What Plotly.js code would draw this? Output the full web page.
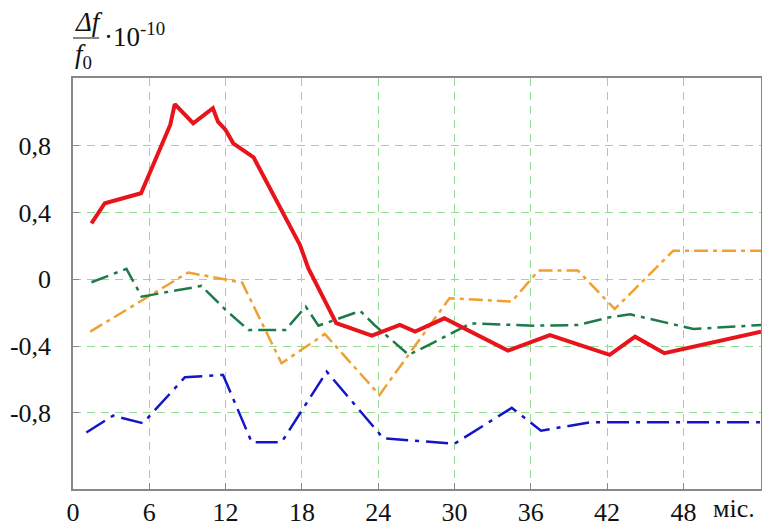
<!DOCTYPE html>
<html><head><meta charset="utf-8">
<script src="https://cdn.plot.ly/plotly-3.0.1.min.js"></script>
</head><body style="margin:0;background:#fff"><div id="c" style="width:762px;height:523px"></div>
<script>
// months
const redX = [1.45, 2.5, 5.35, 7.5, 7.65, 8.0, 9.45, 11.0, 11.4, 12.0, 12.6, 14.2, 17.05, 17.85, 18.5, 20.7, 23.5, 25.7, 26.9, 29.2, 34.2, 37.5, 42.2, 44.2, 46.5, 54.1];
const redY = [0.335, 0.455, 0.515, 0.905, 0.925, 1.048, 0.934, 1.024, 0.944, 0.894, 0.814, 0.73, 0.315, 0.205, 0.066, -0.263, -0.337, -0.274, -0.314, -0.234, -0.427, -0.334, -0.453, -0.344, -0.443, -0.314];

const greenX = [1.45, 4.2, 5.4, 10.1, 11.95, 13.8, 16.7, 18.3, 19.3, 22.6, 23.7, 26.4, 28.5, 31.3, 36.2, 39.7, 42.2, 43.8, 48.8, 54.1];
const greenY = [-0.018, 0.062, -0.104, -0.04, -0.18, -0.304, -0.304, -0.164, -0.278, -0.19, -0.274, -0.453, -0.373, -0.264, -0.278, -0.274, -0.228, -0.21, -0.298, -0.274];

const orangeX = [1.35, 9.05, 13.3, 16.4, 19.8, 24.1, 29.6, 34.5, 36.6, 39.7, 42.6, 47.2, 54.1];
const orangeY = [-0.314, 0.04, -0.02, -0.503, -0.328, -0.693, -0.114, -0.134, 0.052, 0.052, -0.178, 0.171, 0.171];

const blueX = [1.05, 3.15, 5.5, 8.8, 11.8, 14.05, 16.4, 19.95, 24.4, 30.0, 34.5, 36.8, 40.6, 54.1];
const blueY = [-0.918, -0.817, -0.862, -0.587, -0.573, -0.976, -0.976, -0.553, -0.952, -0.985, -0.77, -0.907, -0.857, -0.857];

const xTicks = [0, 6, 12, 18, 24, 30, 36, 42, 48];
const yTicks = [0.8, 0.4, 0, -0.4, -0.8];
const yTickText = ['0,8', '0,4', '0', '-0,4', '-0,8'];

const FAM = 'Times New Roman';
const traces = [
  {x: orangeX, y: orangeY, mode: 'lines', line: {color: '#f0a030', width: 2.5, dash: '14px,5px,4px,5px'}},
  {x: greenX, y: greenY, mode: 'lines', line: {color: '#1e7a48', width: 2.5, dash: '18px,6px,4px,6px'}},
  {x: blueX, y: blueY, mode: 'lines', line: {color: '#1414c8', width: 2.5, dash: '22px,7px,4px,7px'}},
  {x: redX, y: redY, mode: 'lines', line: {color: '#e8141c', width: 4}}
];
const plotH = 523 - 78 - 34;
const layout = {
  width: 762, height: 523,
  margin: {l: 73, r: 1, t: 78, b: 34},
  showlegend: false,
  paper_bgcolor: '#fff', plot_bgcolor: '#fff',
  font: {family: FAM, size: 26, color: '#111'},
  xaxis: {range: [0, 54.1], tickvals: xTicks, ticktext: xTicks.map(String),
    showgrid: true, gridcolor: '#94dc94', gridwidth: 1, griddash: '8px,6px',
    zeroline: false, showline: true, linecolor: '#888', linewidth: 1.5, mirror: true,
    ticks: 'inside', ticklen: 6, tickcolor: '#888', automargin: false, ticklabelstandoff: -1,
    tickfont: {family: FAM, size: 26, color: '#111'}},
  yaxis: {range: [-1.256, 1.205], tickvals: yTicks, ticktext: yTickText,
    showgrid: true, gridcolor: '#94dc94', gridwidth: 1, griddash: '8px,6px',
    zeroline: false, showline: true, linecolor: '#888', linewidth: 1.5, mirror: true,
    ticks: 'inside', ticklen: 6, tickcolor: '#888', automargin: false, ticklabelstandoff: 15,
    tickfont: {family: FAM, size: 26, color: '#111'}},
  annotations: [
    {xref: 'x', yref: 'paper', x: 52, y: 0, yshift: -19, text: 'міс.', showarrow: false,
     xanchor: 'center', yanchor: 'middle', font: {family: FAM, size: 26, color: '#111'}},
    {xref: 'paper', yref: 'paper', x: 0, y: 1, xanchor: 'left', yanchor: 'middle', yshift: 56,
     text: '<i>Δf</i>', showarrow: false, font: {family: FAM, size: 27, color: '#111'}},
    {xref: 'paper', yref: 'paper', x: 0, y: 1, xanchor: 'left', yanchor: 'middle', yshift: 22,
     text: '<i>f</i><sub>0</sub>', showarrow: false, font: {family: FAM, size: 27, color: '#111'}},
    {xref: 'paper', yref: 'paper', x: 0.042, y: 1, xanchor: 'left', yanchor: 'middle', yshift: 43,
     text: '·10<sup>-10</sup>', showarrow: false, font: {family: FAM, size: 27, color: '#111'}}
  ],
  shapes: [
    {type: 'line', xref: 'paper', yref: 'paper', x0: 0, x1: 0.038,
     y0: 1 + 40 / plotH, y1: 1 + 40 / plotH, line: {color: '#333', width: 1.2}}
  ]
};
Plotly.newPlot('c', traces, layout, {displayModeBar: false});
</script></body></html>
